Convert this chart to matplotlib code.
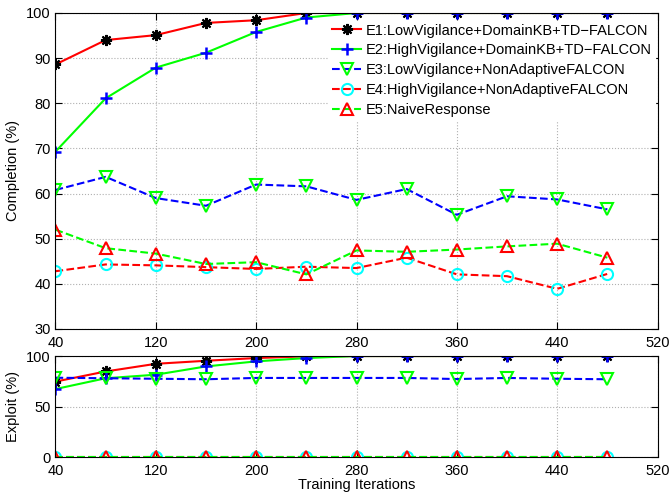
import matplotlib
matplotlib.use("Agg")
import matplotlib.pyplot as plt

plt.rcParams['font.family'] = ['Liberation Sans', 'DejaVu Sans']

iters = [40, 80, 120, 160, 200, 240, 280, 320, 360, 400, 440, 480]
labels = ["E1:LowVigilance+DomainKB+TD\u2212FALCON",
          "E2:HighVigilance+DomainKB+TD\u2212FALCON",
          "E3:LowVigilance+NonAdaptiveFALCON",
          "E4:HighVigilance+NonAdaptiveFALCON",
          "E5:NaiveResponse"]

comp_e1 = [88.6, 94.0, 95.1, 97.8, 98.4, 100, 100, 100, 100, 100, 100, 100]
comp_e2 = [69.3, 81.1, 87.9, 91.2, 95.8, 99.0, 100, 100, 100, 100, 100, 100]
comp_e3 = [60.8, 63.7, 59.0, 57.3, 62.0, 61.6, 58.6, 61.0, 55.3, 59.4, 58.7, 56.5]
comp_e4 = [42.8, 44.3, 44.1, 43.7, 43.3, 43.8, 43.5, 45.8, 42.1, 41.7, 38.9, 42.2]
comp_e5 = [52.0, 47.9, 46.7, 44.4, 44.8, 42.1, 47.4, 47.1, 47.6, 48.3, 48.9, 45.8]

expl_e1 = [74.7, 84.7, 92.3, 95.3, 98.0, 99.7, 100, 100, 100, 100, 100, 100]
expl_e2 = [67.3, 78.0, 81.5, 89.7, 94.7, 98.0, 100, 100, 100, 100, 100, 100]
expl_e3 = [78.5, 78.0, 77.5, 77.0, 78.3, 78.3, 78.3, 78.3, 77.2, 78.3, 77.5, 77.0]
expl_e4 = [0, 0, 0, 0, 0, 0, 0, 0, 0, 0, 0, 0]
expl_e5 = [0, 0, 0, 0, 0, 0, 0, 0, 0, 0, 0, 0]

styles = [
    dict(color='red', linestyle='-', marker=(8, 2, 0), mec='black', mfc='black', ms=8, mew=1.5),
    dict(color='#00ff00', linestyle='-', marker='+', mec='blue', mfc='blue', ms=9, mew=1.8),
    dict(color='blue', linestyle='--', marker='v', mec='#00ff00', mfc='none', ms=9, mew=1.5),
    dict(color='red', linestyle='--', marker='o', mec='cyan', mfc='none', ms=8, mew=1.5),
    dict(color='#00ff00', linestyle='--', marker='^', mec='red', mfc='none', ms=9, mew=1.5),
]

fig = plt.figure(figsize=(6.71, 4.96), dpi=100)
ax1 = fig.add_axes([0.0827, 0.3367, 0.8972, 0.6371])
ax2 = fig.add_axes([0.0827, 0.0786, 0.8972, 0.2036])

comp = [comp_e1, comp_e2, comp_e3, comp_e4, comp_e5]
expl = [expl_e1, expl_e2, expl_e3, expl_e4, expl_e5]

for data, st, lab in zip(comp, styles, labels):
    ax1.plot(iters, data, lw=1.5, label=lab, **st)
for data, st in zip(expl, styles):
    ax2.plot(iters, data, lw=1.5, **st)

for ax in (ax1, ax2):
    ax.set_xlim(40, 520)
    ax.set_xticks([40, 120, 200, 280, 360, 440, 520])
    ax.grid(True, linestyle=':', color='#b0b0b0', lw=0.8)
    ax.tick_params(direction='in', top=True, right=True, labelsize=10.5, length=5)
    ax.tick_params(axis='x', pad=5)
    for s in ax.spines.values():
        s.set_linewidth(0.8)

ax1.set_ylim(30, 100)
ax1.set_yticks(range(30, 101, 10))
ax1.set_ylabel("Completion (%)", fontsize=10.5)
ax2.set_ylim(0, 100)
ax2.set_yticks([0, 50, 100])
ax2.set_ylabel("Exploit (%)", fontsize=10.5)
ax2.set_xlabel("Training Iterations", fontsize=10.5, labelpad=0)

leg = ax1.legend(loc='upper right', bbox_to_anchor=(1.0, 0.985), fontsize=10.5,
                 frameon=True, handlelength=2.0, handletextpad=0.3, labelspacing=0.4,
                 borderaxespad=0.2, borderpad=0.2)
leg.get_frame().set_edgecolor('white')
leg.get_frame().set_facecolor('white')
leg.get_frame().set_alpha(1)

fig.savefig("out.png", dpi=100)
